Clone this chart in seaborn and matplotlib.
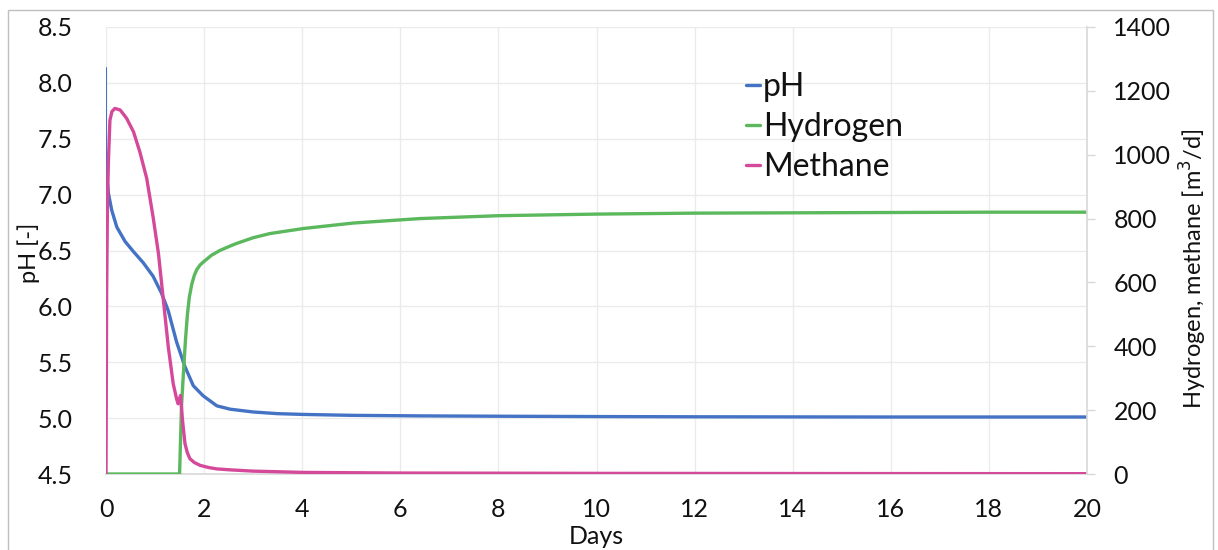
import numpy as np
import pandas as pd
import seaborn as sns
import matplotlib
matplotlib.use("Agg")
import matplotlib.pyplot as plt
from matplotlib.patches import Rectangle

# ---- data ----
# initial pH jump at t = 0
days_ph0 = [0.0, 0.0]
ph0 = [8.13, 6.98]

days_ph = [0.004, 0.05, 0.117, 0.22, 0.39, 0.56, 0.76, 0.96, 1.13, 1.27, 1.44, 1.61, 1.78, 1.98,
           2.26, 2.53, 3.0, 3.5, 4.03, 5.0, 6.4, 8, 10, 12, 14, 16, 18, 20]
ph = [7.22, 7.01, 6.86, 6.71, 6.58, 6.49, 6.39, 6.27, 6.12, 5.96, 5.68, 5.46, 5.29, 5.20,
      5.11, 5.08, 5.055, 5.04, 5.033, 5.025, 5.02, 5.017, 5.014, 5.012, 5.011, 5.01, 5.01, 5.01]

days_h2 = [0, 1.50, 1.54, 1.58, 1.62, 1.66, 1.70, 1.75, 1.80, 1.85, 1.92, 2.0, 2.15, 2.32, 2.53,
           2.66, 3.0, 3.34, 4.03, 5.04, 6.4, 8, 10, 12, 14, 16, 18, 20]
hydrogen = [0, 0, 215, 320, 420, 500, 555, 595, 622, 640, 655, 666, 685, 700, 714,
            722, 740, 753, 769, 786, 800, 809, 814, 817, 818, 819, 820, 820]

days_ch4 = [0, 0.013, 0.03, 0.05, 0.08, 0.12, 0.18, 0.29, 0.42, 0.56, 0.69, 0.83, 0.96, 1.07,
            1.17, 1.27, 1.37, 1.44, 1.47, 1.50, 1.52, 1.56, 1.61, 1.66, 1.71, 1.80, 1.92, 2.1,
            2.26, 2.53, 3.0, 4.03, 6, 10, 14, 20]
methane = [0, 565, 850, 983, 1108, 1135, 1145, 1140, 1114, 1072, 1009, 926, 805, 690,
           544, 398, 283, 235, 220, 236, 246, 168, 95, 66, 48, 36, 27, 20,
           16, 13, 9, 5, 3, 2, 1.5, 1]

ph_ticks = [4.5, 5.0, 5.5, 6.0, 6.5, 7.0, 7.5, 8.0, 8.5]
gas_ticks = [0, 200, 400, 600, 800, 1000, 1200, 1400]
day_ticks = [0, 2, 4, 6, 8, 10, 12, 14, 16, 18, 20]

BLUE = "#4472C4"
GREEN = "#5BB85D"
PINK = "#D5499A"
GRID = "#EBEBEB"
SPINE = "#D9D9D9"
TXT = "#111111"

sns.set_theme(style="white")
plt.rcParams["font.family"] = ["Lato", "DejaVu Sans"]

fig = plt.figure(figsize=(12.18, 5.5), dpi=100)
ax = fig.add_axes([106 / 1218, 1 - 474 / 550, (1087 - 106) / 1218, (474 - 27) / 550])
ax2 = ax.twinx()

df_ph0 = pd.DataFrame({"Days": days_ph0, "pH": ph0})
df_ph = pd.DataFrame({"Days": days_ph, "pH": ph})
df_h2 = pd.DataFrame({"Days": days_h2, "v": hydrogen})
df_ch4 = pd.DataFrame({"Days": days_ch4, "v": methane})

LW = 2.4
sns.lineplot(data=df_ph0, x="Days", y="pH", ax=ax, color=BLUE, lw=1.5, estimator=None, sort=False, legend=False)
sns.lineplot(data=df_ph, x="Days", y="pH", ax=ax, color=BLUE, lw=LW, estimator=None, sort=False, label="pH", legend=False)
sns.lineplot(data=df_h2, x="Days", y="v", ax=ax2, color=GREEN, lw=LW, estimator=None, sort=False, label="Hydrogen", legend=False)
sns.lineplot(data=df_ch4, x="Days", y="v", ax=ax2, color=PINK, lw=LW, estimator=None, sort=False, label="Methane", legend=False)

ax.set_xlim(0, 20)
ax.set_ylim(4.5, 8.5)
ax2.set_ylim(0, 1400)
ax.set_xticks(day_ticks)
ax.set_yticks(ph_ticks)
ax.set_yticklabels([f"{v:.1f}" for v in ph_ticks])
ax2.set_yticks(gas_ticks)

ax.grid(True, color=GRID, lw=1)
ax.set_axisbelow(True)
ax2.grid(False)

for a in (ax, ax2):
    for s in a.spines.values():
        s.set_visible(False)
ax.spines["bottom"].set_visible(True)
ax.spines["bottom"].set_color(SPINE)
ax2.spines["right"].set_visible(True)
ax2.spines["right"].set_color(SPINE)

TICK_FS = 18
ax.tick_params(axis="y", left=False, length=0, pad=24, labelsize=TICK_FS, labelcolor=TXT)
ax.tick_params(axis="x", bottom=False, length=0, pad=17, labelsize=TICK_FS, labelcolor=TXT)
ax2.tick_params(axis="y", right=True, direction="out", length=6, width=1, color=SPINE, pad=13,
                labelsize=TICK_FS, labelcolor=TXT)

ax.set_xlabel("")
ax.set_ylabel("")
ax2.set_ylabel("")
fig.text((106 + 1087) / 2 / 1218, 1 - 537 / 550, "Days", ha="center", va="center", fontsize=18, color=TXT)
fig.text(29 / 1218, 1 - 253 / 550, "pH [-]", ha="center", va="center", rotation=90, fontsize=17, color=TXT)
fig.text(1193 / 1218, 1 - 269 / 550, "Hydrogen, methane [m$^3$/d]", ha="center", va="center", rotation=90,
         fontsize=17, color=TXT)

h1, l1 = ax.get_legend_handles_labels()
h2, l2 = ax2.get_legend_handles_labels()
leg = ax2.legend(h1 + h2, l1 + l2, loc="upper left", bbox_to_anchor=(746 / 1218, 1 - 72 / 550),
                 bbox_transform=fig.transFigure, frameon=False, fontsize=23, handlelength=0.45,
                 handletextpad=0.08, labelspacing=0.32, borderpad=0, borderaxespad=0)
for t in leg.get_texts():
    t.set_color(TXT)

fig.patches.append(Rectangle((8 / 1218, -0.02), (1213 - 8) / 1218, 1.02 - 10 / 550,
                             transform=fig.transFigure, fill=False, edgecolor="#BFBFBF", lw=1))

fig.savefig("out.png", dpi=100)
